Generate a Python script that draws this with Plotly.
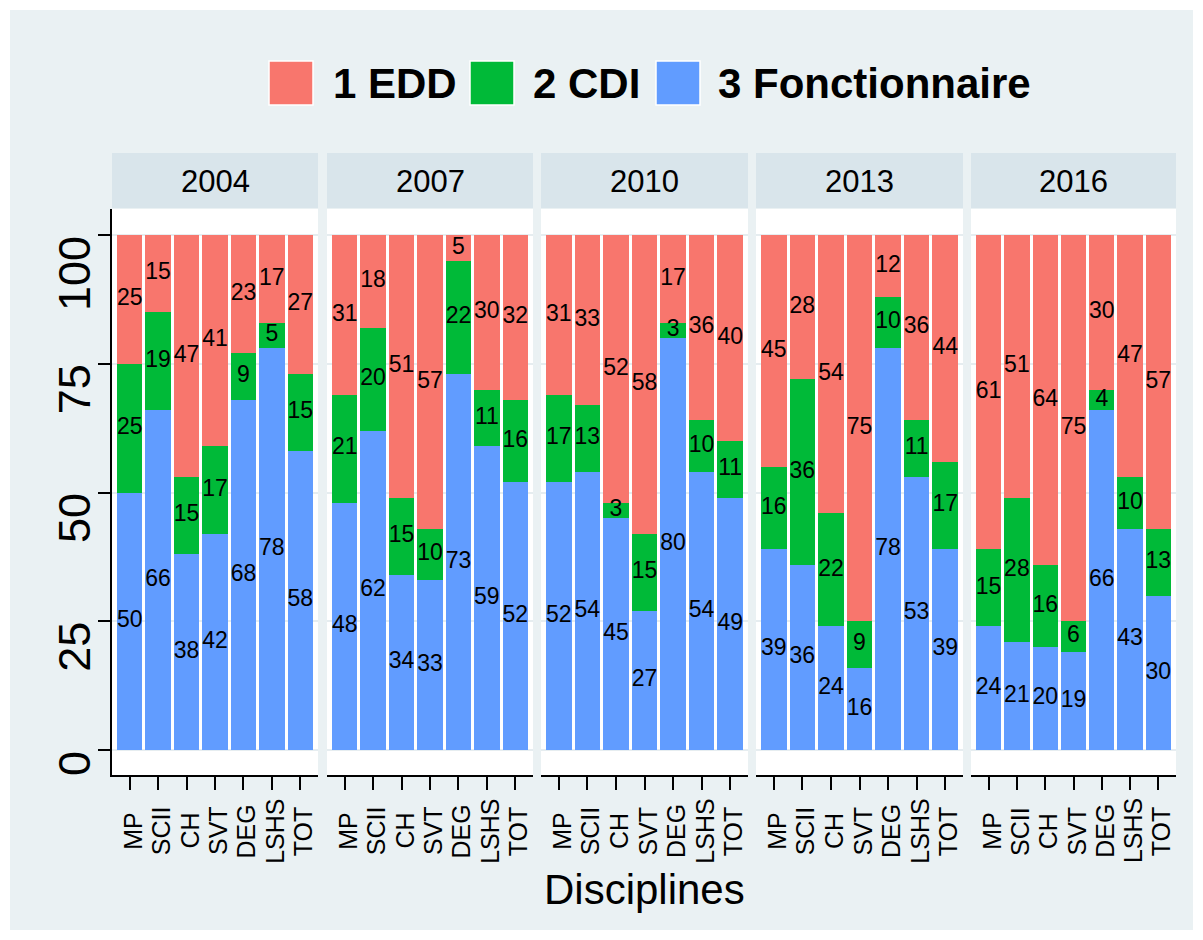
import numpy as np
import plotly.graph_objects as go

# ---------------- data ----------------
years = ["2004", "2007", "2010", "2013", "2016"]
disciplines = ["MP", "SCII", "CH", "SVT", "DEG", "LSHS", "TOT"]
series_names = ["1 EDD", "2 CDI", "3 Fonctionnaire"]

fonctionnaire = [
    [50, 66, 38, 42, 68, 78, 58],
    [48, 62, 34, 33, 73, 59, 52],
    [52, 54, 45, 27, 80, 54, 49],
    [39, 36, 24, 16, 78, 53, 39],
    [24, 21, 20, 19, 66, 43, 30],
]
cdi = [
    [25, 19, 15, 17, 9, 5, 15],
    [21, 20, 15, 10, 22, 11, 16],
    [17, 13, 3, 15, 3, 10, 11],
    [16, 36, 22, 9, 10, 11, 17],
    [15, 28, 16, 6, 4, 10, 13],
]
edd = [
    [25, 15, 47, 41, 23, 17, 27],
    [31, 18, 51, 57, 5, 30, 32],
    [31, 33, 52, 58, 17, 36, 40],
    [45, 28, 54, 75, 12, 36, 44],
    [61, 51, 64, 75, 30, 47, 57],
]
y_ticks = [0, 25, 50, 75, 100]

# ---------------- style ----------------
# the page body has an 8px margin; the figure is sized so the whole page is 1203x940
OFF = 8
W, H = 1203 - 2 * OFF, 940 - 2 * OFF
FONT = "Liberation Sans, Arial, Helvetica, sans-serif"
C_EDD, C_CDI, C_FON = "#F8766D", "#00BA38", "#619CFF"
BG = "#EAF1F3"
STRIP = "#D9E5EB"
GRID = "#E6EDF0"


def px(x):
    """page pixel x -> paper fraction"""
    return (x - OFF) / W


def py(y):
    """page pixel y -> paper fraction"""
    return 1 - (y - OFF) / H


panels = [(112, 318), (327, 533), (541, 748), (756, 963), (971, 1176)]
plot_top, plot_bot = 209, 775
strip_top, strip_bot = 153, 208

fig = go.Figure()
layout = dict(
    width=W, height=H,
    margin=dict(l=0, r=0, t=0, b=0),
    paper_bgcolor=BG, plot_bgcolor="white",
    barmode="stack", bargap=0.105,
    showlegend=False,
    font=dict(family=FONT, color="black"),
)
annotations = []
shapes = []

for i, yr in enumerate(years):
    n = "" if i == 0 else str(i + 1)
    xa, ya = "x" + n, "y" + n
    b = np.array(fonctionnaire[i])
    c = np.array(cdi[i])
    e = np.array(edd[i])
    for vals, col, nm in [(b, C_FON, series_names[2]), (c, C_CDI, series_names[1]), (e, C_EDD, series_names[0])]:
        fig.add_trace(go.Bar(x=disciplines, y=vals, name=nm, marker=dict(color=col, line=dict(width=0)),
                             xaxis=xa, yaxis=ya, showlegend=False))
    centers = np.concatenate([b / 2, b + c / 2, b + c + e / 2])
    texts = [str(v) for v in np.concatenate([b, c, e])]
    fig.add_trace(go.Scatter(x=disciplines * 3, y=centers, text=texts, mode="text",
                             textposition="middle center",
                             textfont=dict(size=23, color="black", family=FONT),
                             xaxis=xa, yaxis=ya, showlegend=False, cliponaxis=False,
                             hoverinfo="skip"))
    l, r = panels[i]
    layout["xaxis" + n] = dict(
        domain=[px(l), px(r)], anchor=ya, type="category",
        range=[-0.623, 6.623], showline=True, linecolor="black", linewidth=2,
        ticks="outside", ticklen=13, tickwidth=2, tickcolor="black",
        showticklabels=False, showgrid=False, zeroline=False,
    )
    yax = dict(
        domain=[py(plot_bot), py(plot_top)], anchor=xa,
        range=[-4.85, 105.05], tickvals=y_ticks,
        showgrid=True, gridcolor=GRID, gridwidth=1.5, zeroline=False,
        showticklabels=False,
    )
    if i == 0:
        yax.update(showline=True, linecolor="black", linewidth=2, ticks="outside",
                   ticklen=12, tickwidth=2, tickcolor="black")
    else:
        yax.update(showline=False, ticks="")
    layout["yaxis" + n] = yax

    # strip header
    shapes.append(dict(type="rect", xref="paper", yref="paper",
                       x0=px(l), x1=px(r), y0=py(strip_bot), y1=py(strip_top),
                       fillcolor=STRIP, line=dict(width=0), layer="below"))
    annotations.append(dict(text=yr, xref="paper", yref="paper", x=px((l + r) / 2),
                            y=py((strip_top + strip_bot) / 2 + 1), xanchor="center", yanchor="middle",
                            showarrow=False, font=dict(size=31, family=FONT, color="black")))
    # x tick labels
    for d in disciplines:
        annotations.append(dict(text=d, xref=xa, yref="paper", x=d, y=py(831),
                                xanchor="center", yanchor="middle", textangle=-90, xshift=3,
                                showarrow=False, font=dict(size=25, family=FONT, color="black")))

# y tick labels (first panel)
for v in y_ticks:
    annotations.append(dict(text=str(v), xref="paper", yref="y", x=px(101), y=v,
                            xanchor="right", yanchor="top", textangle=-90, borderpad=0,
                            showarrow=False, font=dict(size=45, family=FONT, color="black")))

# axis title
annotations.append(dict(text="Disciplines", xref="paper", yref="paper", x=px(644), y=py(889),
                        xanchor="center", yanchor="middle", showarrow=False,
                        font=dict(size=42, family=FONT, color="black")))

# legend (manual)
legend_items = [(series_names[0], C_EDD, 269, 331), (series_names[1], C_CDI, 470, 531),
                (series_names[2], C_FON, 656, 716)]
for nm, col, sx, tx in legend_items:
    shapes.append(dict(type="rect", xref="paper", yref="paper",
                       x0=px(sx), x1=px(sx + 44), y0=py(105), y1=py(61),
                       fillcolor=col, line=dict(color="white", width=1.5)))
    annotations.append(dict(text="<b>" + nm + "</b>", xref="paper", yref="paper", x=px(tx), y=py(84),
                            xanchor="left", yanchor="middle", showarrow=False,
                            font=dict(size=42, family=FONT, color="black")))

# white outer frame (page pixels 0-10 and 1193/930 onwards are white)
for (x0, x1, y0, y1) in [(OFF, 1203, OFF, 10), (OFF, 1203, 930, 940),
                         (OFF, 10, OFF, 940), (1193, 1203, OFF, 940)]:
    shapes.append(dict(type="rect", xref="paper", yref="paper",
                       x0=px(x0), x1=px(x1), y0=py(y1), y1=py(y0),
                       fillcolor="white", line=dict(width=0), layer="above"))

layout["annotations"] = annotations
layout["shapes"] = shapes
fig.update_layout(**layout)
fig.write_html("out.html")
